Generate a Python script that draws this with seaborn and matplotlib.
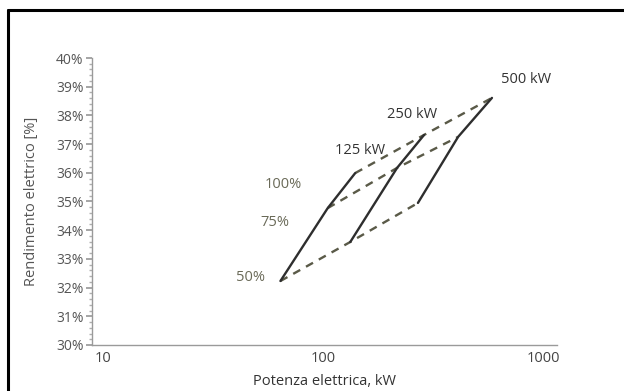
import matplotlib
matplotlib.use("Agg")
import matplotlib.pyplot as plt
import seaborn as sns
import pandas as pd
import numpy as np
from matplotlib.lines import Line2D
from matplotlib.ticker import FixedLocator, FuncFormatter, MultipleLocator

sizes = ["125 kW", "250 kW", "500 kW"]
loads = ["50%", "75%", "100%"]
power_125 = [64, 105, 140]
power_250 = [133, 217, 288]
power_500 = [270, 411, 586]
eff_125 = [32.23, 34.77, 35.99]
eff_250 = [33.59, 36.17, 37.32]
eff_500 = [34.95, 37.25, 38.61]

rows = []
for s, p, e in zip(sizes, [power_125, power_250, power_500], [eff_125, eff_250, eff_500]):
    for l, pv, ev in zip(loads, p, e):
        rows.append({"size": s, "load": l, "power": pv, "eff": ev})
df = pd.DataFrame(rows)

sns.set_theme(style="white")
plt.rcParams['font.family'] = ['Open Sans', 'DejaVu Sans']

fig = plt.figure(figsize=(6.24, 3.91), dpi=100)
ax = fig.add_axes([92/624, 1-345/391, (557-92)/624, (345-58)/391])

sns.lineplot(data=df, x="power", y="eff", units="load", estimator=None, sort=False,
             color="#5a5a48", linestyle=(0, (3.4, 2.8)), linewidth=1.7, ax=ax, legend=False)
sns.lineplot(data=df, x="power", y="eff", units="size", estimator=None, sort=False,
             color="#2e2e2e", linewidth=1.7, ax=ax, legend=False)

ax.set_xscale("log")
ax.set_xlim(8.9, 1158)
ax.set_ylim(30, 40)
ax.xaxis.set_major_locator(FixedLocator([10, 100, 1000]))
ax.xaxis.set_minor_locator(FixedLocator([]))
ax.xaxis.set_major_formatter(FuncFormatter(lambda v, p: f"{int(v)}"))
ax.yaxis.set_major_locator(MultipleLocator(1))
ax.yaxis.set_minor_locator(MultipleLocator(0.2))
ax.yaxis.set_major_formatter(FuncFormatter(lambda v, p: f"{int(round(v))}%"))

for sp in ["top", "right"]:
    ax.spines[sp].set_visible(False)
for sp in ["left", "bottom"]:
    ax.spines[sp].set_color("#9a9a9a")
    ax.spines[sp].set_linewidth(1.0)
ax.tick_params(axis="y", which="major", left=True, length=4, color="#9a9a9a", labelsize=10,
               labelcolor="#555555", pad=2)
ax.tick_params(axis="y", which="minor", left=True, length=2, color="#b0b0b0")
ax.tick_params(axis="x", which="major", bottom=False, length=0, labelsize=10.5,
               labelcolor="#444444", pad=4)

ax.set_xlabel("Potenza elettrica, kW", fontsize=10.5, color="#333333", labelpad=6)
ax.set_ylabel("Rendimento elettrico [%]", fontsize=10.5, color="#555555", labelpad=12)

# size labels at the 100% points
size_offsets = [(5, 23), (-12, 20), (34, 18)]
for (s, p, e), off in zip(zip(sizes, [power_125, power_250, power_500], [eff_125, eff_250, eff_500]), size_offsets):
    ax.annotate(s, (p[-1], e[-1]), xytext=off, textcoords="offset pixels",
                ha="center", va="center", fontsize=10.5, color="#333333")
# load labels near the 125 kW points
load_offsets = [(-30, 3), (-53, -14), (-72, -11)]
for l, pv, ev, off in zip(loads, power_125, eff_125, load_offsets):
    ax.annotate(l, (pv, ev), xytext=off, textcoords="offset pixels",
                ha="center", va="center", fontsize=10.5, color="#6a6a58")

# black frame of the scanned figure (left and top)
fig.add_artist(Line2D([8/624, 8/624], [0, 1-10/391], transform=fig.transFigure, color="black", linewidth=2.2))
fig.add_artist(Line2D([8/624, 1], [1-10/391, 1-10/391], transform=fig.transFigure, color="black", linewidth=2.2))

fig.savefig("out.png", dpi=100)
